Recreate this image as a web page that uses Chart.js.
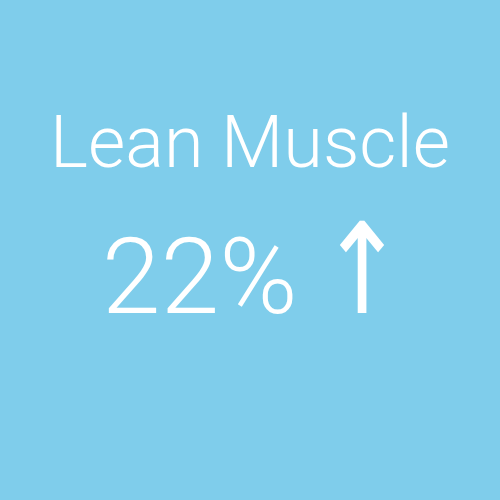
<!DOCTYPE html>
<html>
<head>
<meta charset="utf-8">
<script src="https://cdn.jsdelivr.net/npm/chart.js@4"></script>
<style>
  html, body { margin: 0; padding: 0; background: #7fcdeb; }
  #wrap { width: 500px; height: 500px; }
</style>
</head>
<body>
<div id="wrap"><canvas id="statChart"></canvas></div>
<script>
const metricLabels = ['Lean Muscle'];
const metricValues = [22];
const metricTrend = ['up'];

const ctx = document.getElementById('statChart').getContext('2d');

const bgPlugin = {
    id: 'bg',
    beforeDraw(chart) {
        const c = chart.ctx;
        c.save();
        c.fillStyle = '#7fcdeb';
        c.fillRect(0, 0, chart.width, chart.height);
        c.restore();
    }
};

// big value line under the title, number + trend arrow in a heavier font
const valuePlugin = {
    id: 'valueLine',
    afterDraw(chart) {
        const c = chart.ctx;
        const num = metricValues[0] + '%';
        const arrow = metricTrend[0] === 'up' ? '\u2191' : '\u2193';
        const numFont = '300 106px Roboto';
        const arrowFont = '400 126px "DejaVu Sans"';
        const arrowSx = 0.82;
        const gap = 21;
        c.save();
        c.fillStyle = '#ffffff';
        c.textBaseline = 'alphabetic';
        c.font = numFont;
        const wNum = c.measureText(num).width;
        c.font = arrowFont;
        const wArrow = c.measureText(arrow).width * arrowSx;
        const x = chart.width / 2 - (wNum + gap + wArrow) / 2 + 3.5;
        const y = chart.titleBlock.bottom + 121;
        c.textAlign = 'left';
        c.font = numFont;
        c.fillText(num, x, y);
        c.font = arrowFont;
        c.translate(x + wNum + gap, y);
        c.scale(arrowSx, 1);
        c.fillText(arrow, 0, 0);
        c.restore();
    }
};

new Chart(ctx, {
    type: 'bar',
    data: {
        labels: metricLabels,
        datasets: [{ data: [], backgroundColor: 'transparent' }]
    },
    options: {
        responsive: true,
        maintainAspectRatio: false,
        animation: false,
        layout: { padding: { top: 106 } },
        plugins: {
            legend: { display: false },
            tooltip: { enabled: false },
            title: {
                display: true,
                text: metricLabels[0],
                color: '#ffffff',
                font: { family: 'Roboto', size: 72, weight: 300, lineHeight: 1.2 },
                padding: 0
            }
        },
        scales: {
            x: { display: false },
            y: { display: false }
        }
    },
    plugins: [bgPlugin, valuePlugin]
});
</script>
</body>
</html>
